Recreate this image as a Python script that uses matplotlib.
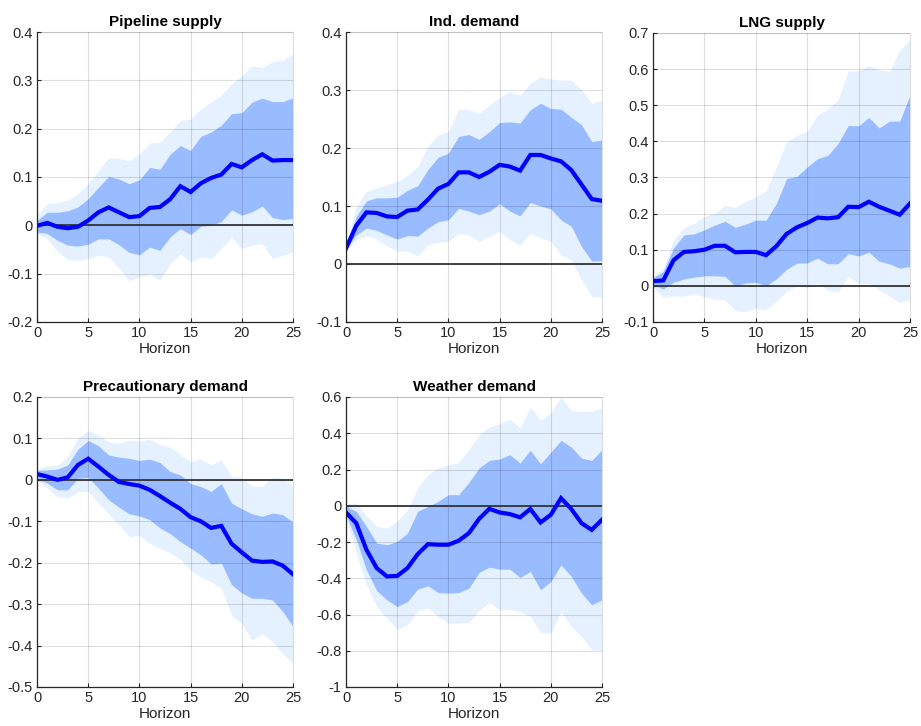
import numpy as np
import matplotlib
matplotlib.use("Agg")
import matplotlib.pyplot as plt

plt.rcParams['font.family'] = ['Liberation Sans', 'DejaVu Sans']

horizon = list(range(26))

titles = ["Pipeline supply", "Ind. demand", "LNG supply",
          "Precautionary demand", "Weather demand"]

# Median impulse responses
median = {
    "Pipeline supply": [-0.001, 0.005, -0.003, -0.006, -0.003, 0.010, 0.027, 0.037, 0.027, 0.017,
                        0.019, 0.036, 0.038, 0.054, 0.081, 0.069, 0.087, 0.098, 0.105, 0.127,
                        0.120, 0.135, 0.147, 0.134, 0.135, 0.135],
    "Ind. demand": [0.027, 0.066, 0.089, 0.088, 0.082, 0.081, 0.092, 0.094, 0.111, 0.130,
                    0.138, 0.158, 0.158, 0.150, 0.159, 0.171, 0.168, 0.161, 0.188, 0.188,
                    0.182, 0.177, 0.162, 0.137, 0.112, 0.109],
    "LNG supply": [0.013, 0.015, 0.071, 0.094, 0.096, 0.100, 0.111, 0.111, 0.093, 0.094,
                   0.094, 0.085, 0.110, 0.144, 0.162, 0.174, 0.189, 0.187, 0.190, 0.219,
                   0.218, 0.233, 0.219, 0.208, 0.197, 0.228],
    "Precautionary demand": [0.014, 0.008, 0.000, 0.006, 0.036, 0.051, 0.032, 0.012, -0.005, -0.010,
                             -0.014, -0.024, -0.039, -0.055, -0.070, -0.090, -0.100, -0.116, -0.111, -0.154,
                             -0.175, -0.195, -0.198, -0.197, -0.207, -0.228],
    "Weather demand": [-0.037, -0.096, -0.243, -0.344, -0.390, -0.387, -0.344, -0.267, -0.212, -0.215,
                       -0.215, -0.193, -0.151, -0.072, -0.017, -0.037, -0.046, -0.064, -0.018, -0.092,
                       -0.050, 0.042, -0.018, -0.096, -0.133, -0.077],
}

# Inner credible band (upper, lower)
inner_hi = {
    "Pipeline supply": [0.010, 0.027, 0.027, 0.030, 0.038, 0.055, 0.079, 0.101, 0.096, 0.086,
                        0.094, 0.120, 0.116, 0.147, 0.165, 0.155, 0.184, 0.193, 0.207, 0.231,
                        0.233, 0.255, 0.263, 0.256, 0.256, 0.264],
    "Ind. demand": [0.033, 0.082, 0.109, 0.114, 0.114, 0.115, 0.127, 0.135, 0.163, 0.184,
                    0.191, 0.220, 0.223, 0.215, 0.228, 0.244, 0.245, 0.243, 0.266, 0.277,
                    0.268, 0.267, 0.253, 0.240, 0.211, 0.214],
    "LNG supply": [0.022, 0.040, 0.105, 0.141, 0.144, 0.155, 0.168, 0.179, 0.162, 0.171,
                   0.182, 0.182, 0.228, 0.297, 0.303, 0.329, 0.352, 0.361, 0.394, 0.444,
                   0.443, 0.466, 0.437, 0.456, 0.456, 0.528],
    "Precautionary demand": [0.023, 0.024, 0.026, 0.036, 0.074, 0.095, 0.082, 0.060, 0.055, 0.052,
                             0.047, 0.050, 0.042, 0.020, 0.012, -0.009, -0.016, -0.028, -0.009, -0.056,
                             -0.070, -0.082, -0.088, -0.080, -0.084, -0.102],
    "Weather demand": [-0.004, -0.031, -0.114, -0.206, -0.215, -0.197, -0.151, -0.031, -0.004, 0.024,
                       0.061, 0.061, 0.129, 0.208, 0.250, 0.258, 0.282, 0.236, 0.306, 0.232,
                       0.295, 0.361, 0.324, 0.263, 0.250, 0.309],
}
inner_lo = {
    "Pipeline supply": [-0.014, -0.017, -0.031, -0.041, -0.043, -0.039, -0.028, -0.028, -0.040, -0.056,
                        -0.061, -0.045, -0.052, -0.024, -0.007, -0.019, -0.002, 0.000, 0.008, 0.032,
                        0.021, 0.028, 0.040, 0.016, 0.012, 0.014],
    "Ind. demand": [0.026, 0.050, 0.062, 0.058, 0.050, 0.043, 0.049, 0.048, 0.062, 0.073,
                    0.076, 0.096, 0.091, 0.085, 0.091, 0.104, 0.091, 0.083, 0.106, 0.100,
                    0.095, 0.076, 0.065, 0.030, 0.005, 0.006],
    "LNG supply": [0.003, -0.009, 0.010, 0.019, 0.024, 0.028, 0.028, 0.026, 0.000, 0.008,
                   0.010, 0.000, 0.019, 0.046, 0.063, 0.063, 0.077, 0.061, 0.061, 0.089,
                   0.083, 0.093, 0.068, 0.061, 0.049, 0.054],
    "Precautionary demand": [0.002, -0.008, -0.024, -0.024, 0.004, 0.006, -0.020, -0.048, -0.066, -0.082,
                             -0.087, -0.096, -0.116, -0.130, -0.149, -0.165, -0.181, -0.203, -0.201, -0.253,
                             -0.273, -0.286, -0.286, -0.290, -0.318, -0.354],
    "Weather demand": [-0.050, -0.188, -0.354, -0.468, -0.519, -0.556, -0.529, -0.460, -0.442, -0.479,
                       -0.482, -0.479, -0.455, -0.368, -0.339, -0.350, -0.350, -0.396, -0.363, -0.464,
                       -0.418, -0.326, -0.390, -0.482, -0.547, -0.519],
}

# Outer credible band (upper, lower)
outer_hi = {
    "Pipeline supply": [0.021, 0.045, 0.047, 0.052, 0.065, 0.086, 0.114, 0.139, 0.139, 0.133,
                        0.148, 0.170, 0.172, 0.193, 0.217, 0.220, 0.241, 0.255, 0.269, 0.293,
                        0.309, 0.330, 0.326, 0.339, 0.341, 0.355],
    "Ind. demand": [0.036, 0.099, 0.125, 0.131, 0.137, 0.142, 0.153, 0.168, 0.203, 0.223,
                    0.228, 0.267, 0.266, 0.260, 0.274, 0.287, 0.297, 0.291, 0.312, 0.323,
                    0.319, 0.317, 0.317, 0.301, 0.277, 0.283],
    "LNG supply": [0.026, 0.049, 0.127, 0.161, 0.173, 0.192, 0.201, 0.224, 0.217, 0.233,
                   0.247, 0.263, 0.329, 0.399, 0.417, 0.428, 0.472, 0.490, 0.515, 0.595,
                   0.595, 0.610, 0.597, 0.594, 0.652, 0.680],
    "Precautionary demand": [0.026, 0.034, 0.036, 0.056, 0.101, 0.119, 0.108, 0.092, 0.088, 0.096,
                             0.094, 0.098, 0.085, 0.079, 0.061, 0.044, 0.050, 0.036, 0.048, 0.008,
                             0.006, -0.015, -0.015, 0.006, 0.004, -0.015],
    "Weather demand": [0.011, 0.015, -0.055, -0.114, -0.123, -0.087, -0.022, 0.098, 0.171, 0.208,
                       0.226, 0.239, 0.309, 0.392, 0.434, 0.453, 0.479, 0.429, 0.545, 0.471,
                       0.512, 0.600, 0.527, 0.521, 0.521, 0.539],
}
outer_lo = {
    "Pipeline supply": [-0.017, -0.028, -0.054, -0.071, -0.072, -0.069, -0.062, -0.065, -0.088, -0.114,
                        -0.107, -0.100, -0.114, -0.079, -0.059, -0.076, -0.065, -0.069, -0.048, -0.024,
                        -0.048, -0.041, -0.038, -0.068, -0.062, -0.055],
    "Ind. demand": [0.022, 0.042, 0.049, 0.043, 0.031, 0.022, 0.022, 0.014, 0.033, 0.038,
                    0.039, 0.053, 0.050, 0.039, 0.048, 0.056, 0.042, 0.033, 0.053, 0.045,
                    0.039, 0.016, 0.007, -0.027, -0.056, -0.057],
    "LNG supply": [-0.002, -0.032, -0.028, -0.028, -0.022, -0.030, -0.037, -0.039, -0.069, -0.071,
                   -0.062, -0.066, -0.043, -0.015, 0.000, -0.004, 0.008, -0.011, -0.018, 0.026,
                   0.006, 0.008, -0.011, -0.028, -0.046, -0.037],
    "Precautionary demand": [-0.001, -0.020, -0.040, -0.044, -0.028, -0.028, -0.056, -0.082, -0.109, -0.137,
                             -0.134, -0.153, -0.165, -0.176, -0.192, -0.218, -0.234, -0.246, -0.262, -0.327,
                             -0.347, -0.387, -0.371, -0.391, -0.419, -0.443],
    "Weather demand": [-0.068, -0.261, -0.436, -0.556, -0.620, -0.681, -0.657, -0.578, -0.565, -0.611,
                       -0.648, -0.648, -0.644, -0.578, -0.534, -0.575, -0.571, -0.584, -0.611, -0.700,
                       -0.703, -0.584, -0.667, -0.722, -0.795, -0.799],
}

ylims = {
    "Pipeline supply": (-0.2, 0.4),
    "Ind. demand": (-0.1, 0.4),
    "LNG supply": (-0.1, 0.7),
    "Precautionary demand": (-0.5, 0.2),
    "Weather demand": (-1.0, 0.6),
}
ysteps = {
    "Pipeline supply": 0.1,
    "Ind. demand": 0.1,
    "LNG supply": 0.1,
    "Precautionary demand": 0.1,
    "Weather demand": 0.2,
}

W, H = 921, 726
fig = plt.figure(figsize=(W / 100, H / 100), dpi=100)

# axes rectangles in pixels: left, top, right, bottom
rects = {
    "Pipeline supply": (37, 32, 293, 322),
    "Ind. demand": (346, 32, 602, 322),
    "LNG supply": (653, 33, 910, 322),
    "Precautionary demand": (37, 397, 293, 687),
    "Weather demand": (346, 397, 602, 687),
}

outer_col = "#E5F1FF"
inner_col = "#99BBFF"
line_col = "#0000FF"
axis_col = "#262626"


def fmt(v):
    if abs(v) < 1e-9:
        return "0"
    s = f"{v:.1f}"
    if s in ("1.0", "-1.0"):
        return s[:-2]
    return s


for name in titles:
    l, t, r, b = rects[name]
    ax = fig.add_axes([l / W, 1 - b / H, (r - l) / W, (b - t) / H])
    x = np.array(horizon)
    ax.fill_between(x, outer_lo[name], outer_hi[name], color=outer_col, lw=0, zorder=1)
    ax.fill_between(x, inner_lo[name], inner_hi[name], color=inner_col, lw=0, zorder=2)
    ax.axhline(0, color="#333333", lw=1.3, zorder=3)
    ax.plot(x, median[name], color=line_col, lw=3.0, zorder=4, solid_joinstyle="miter")

    lo, hi = ylims[name]
    ax.set_xlim(0, 25)
    ax.set_ylim(lo, hi)
    ax.set_xticks([0, 5, 10, 15, 20, 25])
    step = ysteps[name]
    yt = np.round(np.arange(lo, hi + step / 2, step), 3)
    ax.set_yticks(yt)
    ax.set_yticklabels([fmt(v) for v in yt])

    # semi-transparent grid drawn over the bands
    ax.grid(True, color="black", lw=0.8, alpha=0.13)
    ax.set_axisbelow(False)
    for gl in ax.get_xgridlines() + ax.get_ygridlines():
        gl.set_zorder(3.5)

    ax.tick_params(direction="in", length=3, width=0.8, colors=axis_col,
                   labelsize=10.5, pad=3, top=False, right=False)
    for side in ("left", "bottom"):
        ax.spines[side].set_color(axis_col)
        ax.spines[side].set_linewidth(0.9)
        ax.spines[side].set_zorder(5)
    for side in ("top", "right"):
        ax.spines[side].set_color("#dedede")
        ax.spines[side].set_linewidth(0.8)

    ax.set_title(name, fontsize=11, fontweight="bold", color="black", pad=4)
    ax.set_xlabel("Horizon", fontsize=11, color=axis_col, labelpad=1)

fig.savefig("out.png", dpi=100)
